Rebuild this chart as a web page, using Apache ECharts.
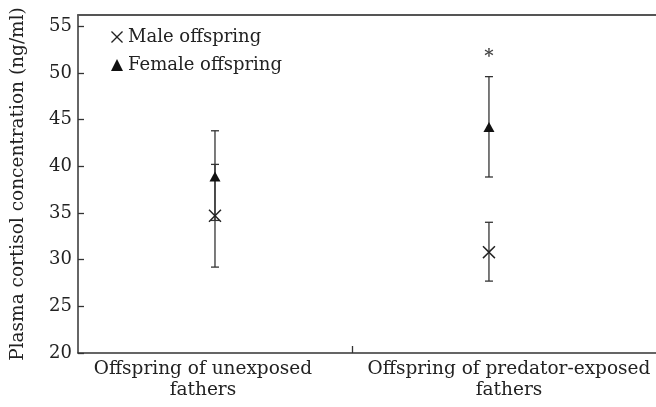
<!DOCTYPE html>
<html>
<head>
<meta charset="utf-8">
<script src="https://cdn.jsdelivr.net/npm/echarts@6/dist/echarts.min.js"></script>
<style>html,body{margin:0;padding:0;background:#fff}#c{width:656px;height:407px}</style>
</head>
<body>
<div id="c"></div>
<script>
// ---- data ----
var categories = ['Offspring of unexposed\nfathers', 'Offspring of predator-exposed\nfathers'];
var categoryPos = [0.5, 1.5];
var maleMean = [34.7, 30.8];
var maleLow = [29.2, 27.7];
var maleHigh = [40.2, 34.0];
var femaleMean = [38.9, 44.2];
var femaleLow = [34.2, 38.85];
var femaleHigh = [43.8, 49.6];
var yTicks = [20, 25, 30, 35, 40, 45, 50, 55];
var sigMarks = [{ pos: 1.5, y: 52.0, text: '*' }];

// label anchor positions along the x axis (layout only)
var labelPos = [0.456, 1.573];

var FONT = '"DejaVu Serif", "Liberation Serif", serif';
var INK = '#222';
var LINE = '#333';
var crossPath = 'path://M0,0.8L0.8,0L5,4.2L9.2,0L10,0.8L5.8,5L10,9.2L9.2,10L5,5.8L0.8,10L0,9.2L4.2,5Z';

function errData(pos, lo, hi) {
  return pos.map(function (p, i) { return [p, lo[i], hi[i]]; });
}
function renderErr(params, api) {
  var x = api.value(0);
  var lo = api.coord([x, api.value(1)]);
  var hi = api.coord([x, api.value(2)]);
  var cap = 4;
  var st = { stroke: LINE, lineWidth: 1.3 };
  return {
    type: 'group',
    children: [
      { type: 'line', shape: { x1: lo[0], y1: lo[1], x2: hi[0], y2: hi[1] }, style: st },
      { type: 'line', shape: { x1: lo[0] - cap, y1: lo[1], x2: lo[0] + cap, y2: lo[1] }, style: st },
      { type: 'line', shape: { x1: hi[0] - cap, y1: hi[1], x2: hi[0] + cap, y2: hi[1] }, style: st }
    ]
  };
}

var chart = echarts.init(document.getElementById('c'));
chart.setOption({
  animation: false,
  legend: {
    orient: 'vertical',
    left: 106,
    top: 23,
    itemGap: 10,
    itemWidth: 12,
    itemHeight: 12,
    textStyle: { fontFamily: FONT, fontSize: 18, color: INK },
    data: [
      { name: 'Male offspring', icon: crossPath, itemStyle: { color: INK } },
      { name: 'Female offspring', icon: 'triangle', itemStyle: { color: '#111' } }
    ]
  },
  grid: { left: 78, top: 15, width: 600, bottom: 54, outerBoundsMode: 'none', containLabel: false },
  graphic: [
    { type: 'rect', right: 0, top: 17, z: 100, silent: true,
      shape: { width: 3, height: 334 }, style: { fill: '#fff' } }
  ],
  xAxis: [
    {
      type: 'value', min: 0, max: 2.19, position: 'bottom',
      splitLine: { show: false },
      axisLine: { show: true, onZero: false, lineStyle: { color: LINE, width: 1.5 } },
      axisTick: { show: true, inside: true, length: 7, customValues: [1], lineStyle: { color: LINE, width: 1.3 } },
      axisLabel: {
        show: true, customValues: labelPos,
        formatter: function (v) {
          var best = 0;
          for (var i = 1; i < labelPos.length; i++) if (Math.abs(labelPos[i] - v) < Math.abs(labelPos[best] - v)) best = i;
          return categories[best];
        },
        fontFamily: FONT, fontSize: 18.5, color: INK, lineHeight: 21, margin: 6
      }
    },
    {
      type: 'value', min: 0, max: 2.19, position: 'top',
      splitLine: { show: false },
      axisLine: { show: true, onZero: false, lineStyle: { color: '#555', width: 2 } },
      axisTick: { show: false }, axisLabel: { show: false }
    }
  ],
  yAxis: {
    type: 'value', min: 20, max: 56.2,
    name: 'Plasma cortisol concentration (ng/ml)',
    nameLocation: 'middle', nameGap: 50,
    nameTextStyle: { fontFamily: FONT, fontSize: 18.5, color: INK },
    splitLine: { show: false },
    axisLine: { show: true, lineStyle: { color: LINE, width: 1.5 } },
    axisTick: { show: true, inside: true, length: 6, customValues: yTicks, lineStyle: { color: LINE, width: 1.3 } },
    axisLabel: { customValues: yTicks, fontFamily: FONT, fontSize: 18, color: INK, margin: 6 }
  },
  series: [
    { type: 'custom', name: 'errM', renderItem: renderErr, data: errData(categoryPos, maleLow, maleHigh), z: 2 },
    { type: 'custom', name: 'errF', renderItem: renderErr, data: errData(categoryPos, femaleLow, femaleHigh), z: 2 },
    {
      type: 'scatter', name: 'Male offspring',
      symbol: crossPath, symbolSize: 13, itemStyle: { color: INK, opacity: 1 },
      data: categoryPos.map(function (p, i) { return [p, maleMean[i]]; }), z: 3
    },
    {
      type: 'scatter', name: 'Female offspring',
      symbol: 'triangle', symbolSize: [11, 10], itemStyle: { color: '#111', opacity: 1 },
      data: categoryPos.map(function (p, i) { return [p, femaleMean[i]]; }), z: 3
    },
    {
      type: 'scatter', name: 'sig', symbolSize: 1,
      itemStyle: { color: 'rgba(0,0,0,0)' },
      label: { show: true, position: 'inside', offset: [0, 3], formatter: function (p) { return p.data[2]; },
        fontFamily: FONT, fontSize: 18, fontWeight: 'bold', color: '#111' },
      data: sigMarks.map(function (s) { return [s.pos, s.y, s.text]; })
    }
  ]
});
</script>
</body>
</html>
